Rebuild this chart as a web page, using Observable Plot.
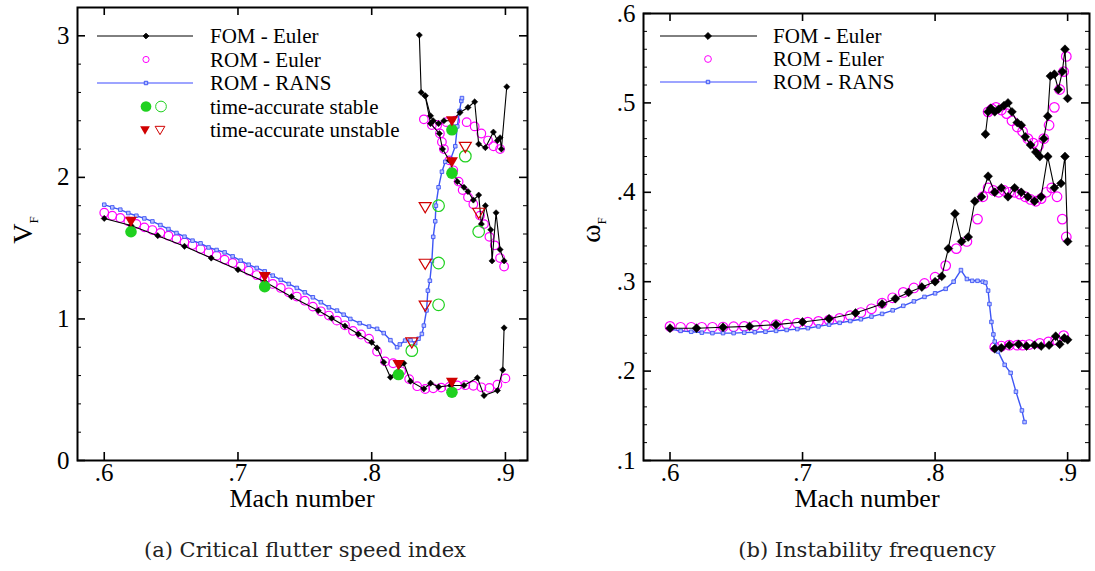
<!DOCTYPE html>
<html><head><meta charset="utf-8">
<script src="https://cdn.jsdelivr.net/npm/d3@7"></script>
<script src="https://cdn.jsdelivr.net/npm/@observablehq/plot@0.6"></script>
<style>
body{margin:0;background:#fff;}
#wrap{position:relative;width:1095px;height:571px;overflow:hidden;background:#fff;}
.panel{position:absolute;top:0;}
.cap{position:absolute;top:538px;font-family:"DejaVu Serif",serif;font-size:21px;color:#222;text-align:center;}
</style></head><body><div id="wrap"></div>
<script>
// ================= DATA =================
// Panel (a): critical flutter speed index V_F vs Mach
const fomA_lowM = [0.600,0.620,0.640,0.660,0.680,0.700,0.720,0.740,0.760,0.770,0.780,0.790,0.800,0.804,0.809,0.814,0.824,0.829,0.839,0.844,0.850,0.859,0.869,0.879,0.884,0.894,0.898,0.899];
const fomA_lowV = [1.710,1.660,1.588,1.513,1.430,1.348,1.262,1.157,1.059,1.005,0.950,0.893,0.835,0.795,0.694,0.588,0.687,0.560,0.506,0.546,0.520,0.530,0.530,0.584,0.459,0.494,0.640,0.937];
const fomA_upM = [0.8356,0.837,0.840,0.844,0.846,0.850,0.854,0.860,0.866,0.872,0.877,0.880,0.885,0.891,0.894,0.896,0.897,0.901];
const fomA_upV = [3.005,2.600,2.576,2.435,2.400,2.380,2.400,2.400,2.458,2.494,2.534,2.235,2.210,2.320,2.260,2.280,2.200,2.640];
const fomA_midM = [0.840,0.844,0.8506,0.853,0.858,0.864,0.869,0.872,0.876,0.880,0.882,0.885,0.889,0.890,0.893,0.896,0.899];
const fomA_midV = [2.576,2.380,2.310,2.200,2.120,1.970,1.930,1.900,1.840,1.875,1.670,1.800,1.630,1.410,1.750,1.490,1.410];

const romA_lowM = [0.600,0.606,0.612,0.618,0.624,0.630,0.636,0.642,0.648,0.654,0.660,0.666,0.672,0.678,0.684,0.690,0.696,0.702,0.708,0.714,0.720,0.726,0.732,0.738,0.744,0.750,0.756,0.762,0.768,0.774,0.780,0.786,0.792,0.798,0.804,0.810,0.816,0.822,0.828,0.834,0.840,0.846,0.852,0.858,0.864,0.870,0.876,0.882,0.888,0.894,0.900];
const romA_lowV = [1.750,1.729,1.713,1.689,1.671,1.647,1.628,1.607,1.588,1.565,1.541,1.522,1.494,1.470,1.447,1.419,1.395,1.372,1.341,1.310,1.280,1.247,1.219,1.188,1.158,1.129,1.087,1.054,1.024,0.988,0.955,0.915,0.890,0.860,0.770,0.700,0.687,0.630,0.575,0.525,0.505,0.510,0.515,0.520,0.530,0.532,0.528,0.517,0.513,0.535,0.580];
const romA_upM = [0.839,0.845,0.849,0.856,0.8625,0.871,0.877,0.882,0.887,0.891,0.896];
const romA_upV = [2.41,2.37,2.37,2.39,2.40,2.39,2.36,2.31,2.26,2.22,2.20];
const romA_midM = [0.851,0.8525,0.854,0.858,0.861,0.865,0.868,0.872,0.876,0.881,0.884,0.888,0.892,0.896,0.899];
const romA_midV = [2.31,2.25,2.20,2.12,2.05,1.97,1.91,1.86,1.81,1.73,1.67,1.58,1.52,1.43,1.37];

const ransA_M = [0.600,0.606,0.612,0.618,0.624,0.630,0.636,0.642,0.648,0.654,0.660,0.666,0.672,0.678,0.684,0.690,0.696,0.702,0.708,0.714,0.720,0.726,0.732,0.738,0.744,0.750,0.756,0.762,0.768,0.774,0.779,0.784,0.791,0.798,0.804,0.809,0.814,0.819,0.821,0.825,0.829,0.8325,0.835,0.8375,0.839,0.841,0.842,0.8435,0.845,0.846,0.8475,0.848,0.850,0.8525,0.855,0.8587,0.8625,0.864,0.8657,0.867,0.8675];
const ransA_V = [1.807,1.788,1.772,1.748,1.729,1.710,1.689,1.663,1.635,1.607,1.581,1.553,1.534,1.505,1.487,1.470,1.442,1.412,1.383,1.360,1.336,1.306,1.276,1.247,1.219,1.188,1.153,1.118,1.082,1.059,1.030,1.000,0.970,0.946,0.930,0.900,0.850,0.800,0.820,0.847,0.850,0.828,0.860,0.894,0.953,1.060,1.200,1.270,1.410,1.580,1.690,1.800,1.930,2.040,2.110,2.120,2.220,2.360,2.470,2.540,2.560];

const stableFilledM = [0.62,0.72,0.82,0.86,0.86,0.86];
const stableFilledV = [1.616,1.228,0.607,0.482,2.030,2.336];
const stableOpenM = [0.83,0.85,0.85,0.85,0.87,0.88];
const stableOpenV = [0.776,1.100,1.395,1.800,2.150,1.617];
const unstableFilledM = [0.62,0.72,0.82,0.86,0.86,0.86];
const unstableFilledV = [1.690,1.300,0.678,0.553,2.110,2.400];
const unstableOpenM = [0.83,0.84,0.84,0.84,0.87,0.88];
const unstableOpenV = [0.835,1.094,1.390,1.790,2.216,1.750];

// Panel (b): instability frequency omega_F vs Mach
const fomB_lowM = [0.600,0.620,0.640,0.660,0.680,0.700,0.720,0.740,0.760,0.770,0.780,0.790,0.800,0.805,0.810,0.815,0.820,0.825,0.830,0.835,0.840,0.845,0.850,0.855,0.860,0.865,0.870,0.875,0.880,0.885,0.890,0.895,0.898,0.900];
const fomB_lowV = [0.248,0.248,0.249,0.250,0.252,0.255,0.2585,0.265,0.275,0.281,0.288,0.294,0.300,0.306,0.337,0.376,0.345,0.350,0.390,0.395,0.418,0.400,0.405,0.395,0.405,0.400,0.395,0.390,0.395,0.440,0.405,0.410,0.440,0.345];
const fomB_upM = [0.838,0.840,0.842,0.845,0.848,0.852,0.855,0.858,0.862,0.865,0.868,0.872,0.876,0.879,0.882,0.885,0.887,0.890,0.893,0.896,0.898,0.900];
const fomB_upV = [0.465,0.490,0.494,0.490,0.493,0.497,0.500,0.490,0.478,0.475,0.462,0.453,0.445,0.440,0.460,0.485,0.530,0.532,0.515,0.535,0.560,0.505];
const fomB_botM = [0.845,0.850,0.856,0.863,0.869,0.875,0.880,0.886,0.891,0.894,0.8975,0.900];
const fomB_botV = [0.225,0.226,0.229,0.230,0.228,0.229,0.228,0.229,0.239,0.230,0.237,0.235];

const romB_lowM = [0.600,0.608,0.616,0.624,0.632,0.640,0.648,0.656,0.664,0.672,0.680,0.688,0.696,0.704,0.712,0.720,0.728,0.736,0.744,0.752,0.760,0.768,0.776,0.784,0.792,0.800,0.808,0.816,0.824,0.832];
const romB_lowV = [0.250,0.249,0.249,0.249,0.249,0.2493,0.2496,0.250,0.2507,0.251,0.252,0.2526,0.2537,0.2548,0.2556,0.257,0.259,0.262,0.2655,0.2697,0.276,0.282,0.288,0.293,0.298,0.305,0.318,0.337,0.345,0.370];
const romB_upM = [0.840,0.843,0.846,0.850,0.854,0.858,0.862,0.866,0.870,0.874,0.878,0.882,0.886,0.890,0.894,0.897,0.899];
const romB_upV = [0.490,0.493,0.495,0.492,0.488,0.480,0.473,0.468,0.460,0.455,0.452,0.460,0.475,0.495,0.515,0.535,0.552];
const romB_midM = [0.836,0.840,0.844,0.848,0.852,0.856,0.860,0.864,0.868,0.872,0.876,0.880,0.884,0.888,0.892,0.896,0.899];
const romB_midV = [0.395,0.405,0.402,0.400,0.402,0.400,0.400,0.398,0.395,0.392,0.390,0.393,0.400,0.405,0.395,0.370,0.350];
const romB_botM = [0.845,0.850,0.856,0.862,0.866,0.871,0.879,0.8855,0.891,0.897];
const romB_botV = [0.227,0.228,0.229,0.229,0.229,0.2297,0.231,0.2326,0.235,0.2397];

const ransB_M = [0.600,0.608,0.616,0.624,0.632,0.640,0.648,0.656,0.664,0.672,0.680,0.688,0.696,0.704,0.712,0.720,0.728,0.736,0.744,0.752,0.760,0.768,0.776,0.784,0.792,0.800,0.808,0.814,0.8195,0.824,0.828,0.832,0.836,0.838,0.840,0.841,0.8425,0.844,0.845,0.8475,0.8525,0.857,0.861,0.8655,0.8675];
const ransB_V = [0.247,0.245,0.244,0.243,0.2425,0.2425,0.2425,0.243,0.2435,0.244,0.245,0.246,0.247,0.248,0.250,0.252,0.254,0.256,0.258,0.261,0.264,0.268,0.273,0.278,0.283,0.287,0.292,0.300,0.313,0.303,0.301,0.301,0.300,0.299,0.290,0.275,0.255,0.241,0.233,0.222,0.207,0.198,0.177,0.156,0.143];

// axes / text
const xMajor = [0.6,0.7,0.8,0.9];
const yMajorA = [0,1,2,3];
const yMajorB = [0.1,0.2,0.3,0.4,0.5,0.6];
const legendA = ["FOM - Euler","ROM - Euler","ROM - RANS","time-accurate stable","time-accurate unstable"];
const legendB = ["FOM - Euler","ROM - Euler","ROM - RANS"];
const captionA = "(a) Critical flutter speed index";
const captionB = "(b) Instability frequency";

// ================= HELPERS =================
const zip = (M, V, zone) => M.map((m, i) => ({M: m, V: V[i], zone}));
const dec = d => d3.format(".1f")(d).replace(/^0\./, ".");
const C = {fom: "#000", rom: "#ff00ff", rans: "#3d55f5", ransFill: "#b8c2ff", green: "#1fd11f", red: "#d00000"};
const triDown = {draw(ctx, size) { const r = Math.sqrt(size / Math.PI); ctx.moveTo(-r, -0.75 * r); ctx.lineTo(r, -0.75 * r); ctx.lineTo(0, 0.95 * r); ctx.closePath(); }};
const SERIF = "Liberation Serif, Times New Roman, serif";

function makePanel(cfg) {
  const {width, height, ml, mr, mt, mb, xDom, yDom, yMajor, yMinor, xMinor, yFmt, dataMarks} = cfg;
  const pw = width - ml - mr, ph = height - mt - mb;
  const xpp = (xDom[1] - xDom[0]) / pw, ypp = (yDom[1] - yDom[0]) / ph;
  const L = 8, l = 4;
  const tickMarks = [
    Plot.ruleX(xMajor, {x: d => d, y1: yDom[0], y2: yDom[0] + L * ypp, stroke: "black", strokeWidth: 1.6}),
    Plot.ruleX(xMajor, {x: d => d, y1: yDom[1], y2: yDom[1] - L * ypp, stroke: "black", strokeWidth: 1.6}),
    Plot.ruleX(xMinor, {x: d => d, y1: yDom[0], y2: yDom[0] + l * ypp, stroke: "black", strokeWidth: 1}),
    Plot.ruleX(xMinor, {x: d => d, y1: yDom[1], y2: yDom[1] - l * ypp, stroke: "black", strokeWidth: 1}),
    Plot.ruleY(yMajor, {y: d => d, x1: xDom[0], x2: xDom[0] + L * xpp, stroke: "black", strokeWidth: 1.6}),
    Plot.ruleY(yMajor, {y: d => d, x1: xDom[1], x2: xDom[1] - L * xpp, stroke: "black", strokeWidth: 1.6}),
    Plot.ruleY(yMinor, {y: d => d, x1: xDom[0], x2: xDom[0] + l * xpp, stroke: "black", strokeWidth: 1}),
    Plot.ruleY(yMinor, {y: d => d, x1: xDom[1], x2: xDom[1] - l * xpp, stroke: "black", strokeWidth: 1})
  ];
  return Plot.plot({
    width, height, marginLeft: ml, marginRight: mr, marginTop: mt, marginBottom: mb,
    x: {domain: xDom, label: null},
    y: {domain: yDom, label: null},
    style: {fontFamily: SERIF, fontSize: "25px", color: "black", background: "white", overflow: "visible"},
    marks: [
      ...dataMarks,
      ...tickMarks,
      Plot.frame({stroke: "black", strokeWidth: 2}),
      Plot.axisX({ticks: xMajor, tickSize: 0, tickPadding: 3, tickFormat: dec, fontSize: 25}),
      Plot.axisY({ticks: yMajor, tickSize: 0, tickPadding: 8, tickFormat: yFmt, fontSize: 25})
    ]
  });
}

function addLegend(svg, cfg) {
  const g = d3.select(svg).append("g");
  const {x0, x1, xm, xt, rows, y0, dy} = cfg;
  rows.forEach((r, i) => {
    const y = y0 + i * dy;
    if (r.line) g.append("line").attr("x1", x0).attr("x2", x1).attr("y1", y).attr("y2", y).attr("stroke", r.line).attr("stroke-width", r.lw || 1);
    r.sym.forEach(s => {
      g.append("path").attr("transform", `translate(${s.x ?? xm},${y})`)
        .attr("d", d3.symbol(s.type, s.size)())
        .attr("fill", s.fill).attr("stroke", s.stroke).attr("stroke-width", s.sw || 1);
    });
    g.append("text").attr("x", xt).attr("y", y).attr("dy", "0.35em").attr("text-anchor", "start")
      .attr("font-family", SERIF).attr("font-size", 21).attr("fill", "black").text(r.label);
  });
}

function addTitles(svg, cfg) {
  const s = d3.select(svg);
  s.append("text").attr("x", cfg.xx).attr("y", cfg.xy).attr("text-anchor", "middle")
    .attr("font-family", SERIF).attr("font-size", 26).attr("fill", "black").text("Mach number");
  const t = s.append("text").attr("transform", `translate(${cfg.yx},${cfg.yy}) rotate(-90)`)
    .attr("text-anchor", "middle").attr("font-family", SERIF).attr("font-size", 28).attr("fill", "black");
  t.append("tspan").text(cfg.ymain);
  t.append("tspan").attr("font-size", 13).attr("dy", "6").text("F");
}

// ================= PANEL A =================
const xDom = [0.58, 0.9165];
const wrap = document.getElementById("wrap");
const fomA = [...zip(fomA_lowM, fomA_lowV, "a"), ...zip(fomA_upM, fomA_upV, "b"), ...zip(fomA_midM, fomA_midV, "c")];
const romA = [...zip(romA_lowM, romA_lowV, "a"), ...zip(romA_upM, romA_upV, "b"), ...zip(romA_midM, romA_midV, "c")];
const ransA = zip(ransA_M, ransA_V, "a");
const svgA = makePanel({
  width: 547, height: 520, ml: 77, mr: 20, mt: 7, mb: 60,
  xDom, yDom: [0, 3.2], yMajor: yMajorA,
  yMinor: d3.range(0.2, 3.15, 0.2).filter(v => Math.abs(v - Math.round(v)) > 1e-6),
  xMinor: [], yFmt: d3.format("d"),
  dataMarks: [
    Plot.dot(romA, {x: "M", y: "V", r: 4.3, stroke: C.rom, fill: "none", strokeWidth: 1.2}),
    Plot.line(ransA, {x: "M", y: "V", stroke: C.rans, strokeWidth: 1.4}),
    Plot.dot(ransA, {x: "M", y: "V", symbol: "square", r: 2, stroke: C.rans, fill: C.ransFill, strokeWidth: 0.9}),
    Plot.line(fomA, {x: "M", y: "V", z: "zone", stroke: C.fom, strokeWidth: 1.1}),
    Plot.dot(fomA, {x: "M", y: "V", symbol: "diamond2", r: 2.8, fill: C.fom, stroke: C.fom, strokeWidth: 0.5}),
    Plot.dot(zip(stableFilledM, stableFilledV), {x: "M", y: "V", r: 5.8, fill: C.green}),
    Plot.dot(zip(stableOpenM, stableOpenV), {x: "M", y: "V", r: 5.8, stroke: C.green, fill: "none", strokeWidth: 1.2}),
    Plot.dot(zip(unstableFilledM, unstableFilledV), {x: "M", y: "V", symbol: triDown, r: 6, fill: C.red}),
    Plot.dot(zip(unstableOpenM, unstableOpenV), {x: "M", y: "V", symbol: triDown, r: 6, stroke: C.red, fill: "none", strokeWidth: 1.2})
  ]
});
svgA.classList.add("panel"); svgA.style.left = "0px";
addLegend(svgA, {x0: 97, x1: 193, xm: 146, xt: 210, y0: 36, dy: 23.5, rows: [
  {label: legendA[0], line: "black", sym: [{type: d3.symbolDiamond2, size: 20, fill: "black", stroke: "black"}]},
  {label: legendA[1], sym: [{type: d3.symbolCircle, size: 30, fill: "none", stroke: C.rom}]},
  {label: legendA[2], line: "#7c86ff", lw: 1.4, sym: [{type: d3.symbolSquare, size: 12, fill: C.ransFill, stroke: C.rans}]},
  {label: legendA[3], sym: [{x: 146, type: d3.symbolCircle, size: 90, fill: C.green, stroke: "none"}, {x: 161, type: d3.symbolCircle, size: 90, fill: "none", stroke: C.green}]},
  {label: legendA[4], sym: [{x: 145, type: triDown, size: 75, fill: C.red, stroke: "none"}, {x: 160, type: triDown, size: 75, fill: "none", stroke: C.red}]}
]});
addTitles(svgA, {xx: 302, xy: 507, yx: 32, yy: 230, ymain: "V"});
wrap.appendChild(svgA);

// ================= PANEL B =================
const fomB = [...zip(fomB_lowM, fomB_lowV, "a"), ...zip(fomB_upM, fomB_upV, "b"), ...zip(fomB_botM, fomB_botV, "c")];
const romB = [...zip(romB_lowM, romB_lowV, "a"), ...zip(romB_upM, romB_upV, "b"), ...zip(romB_midM, romB_midV, "c"), ...zip(romB_botM, romB_botV, "d")];
const ransB = zip(ransB_M, ransB_V, "a");
const svgB = makePanel({
  width: 548, height: 520, ml: 96, mr: 6, mt: 13, mb: 60,
  xDom, yDom: [0.1, 0.6], yMajor: yMajorB,
  yMinor: d3.range(0.12, 0.6, 0.02).filter(v => Math.abs(v * 10 - Math.round(v * 10)) > 1e-6),
  xMinor: [], yFmt: dec,
  dataMarks: [
    Plot.dot(romB, {x: "M", y: "V", r: 4.8, stroke: C.rom, fill: "none", strokeWidth: 1.2}),
    Plot.line(ransB, {x: "M", y: "V", stroke: C.rans, strokeWidth: 1.4}),
    Plot.dot(ransB, {x: "M", y: "V", symbol: "square", r: 2, stroke: C.rans, fill: C.ransFill, strokeWidth: 0.9}),
    Plot.line(fomB, {x: "M", y: "V", z: "zone", stroke: C.fom, strokeWidth: 1.1}),
    Plot.dot(fomB, {x: "M", y: "V", symbol: "diamond2", r: 4, fill: C.fom, stroke: C.fom, strokeWidth: 0.5})
  ]
});
svgB.classList.add("panel"); svgB.style.left = "547px";
addLegend(svgB, {x0: 660 - 547, x1: 757 - 547, xm: 708 - 547, xt: 773 - 547, y0: 36, dy: 23, rows: [
  {label: legendB[0], line: "black", sym: [{type: d3.symbolDiamond2, size: 30, fill: "black", stroke: "black"}]},
  {label: legendB[1], sym: [{type: d3.symbolCircle, size: 36, fill: "none", stroke: C.rom}]},
  {label: legendB[2], line: "#7c86ff", lw: 1.4, sym: [{type: d3.symbolSquare, size: 12, fill: C.ransFill, stroke: C.rans}]}
]});
addTitles(svgB, {xx: 867 - 547, xy: 507, yx: 600 - 547, yy: 230, ymain: "ω"});
wrap.appendChild(svgB);

// captions
[[captionA, 0], [captionB, 547]].forEach(([t, left]) => {
  const d = document.createElement("div"); d.className = "cap";
  d.style.left = left + "px"; d.style.width = (left ? 640 : 610) + "px"; d.textContent = t;
  wrap.appendChild(d);
});
</script></body></html>
